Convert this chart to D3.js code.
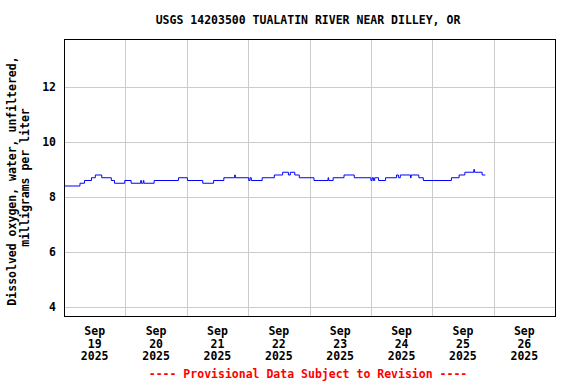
<!DOCTYPE html>
<html>
<head>
<meta charset="utf-8">
<script src="https://cdn.jsdelivr.net/npm/d3@7"></script>
<style>
  html, body { margin: 0; padding: 0; background: #fff; }
  svg { display: block; }
  text { font-family: "DejaVu Sans Mono", monospace; font-weight: bold; font-size: 11.5px; }
</style>
</head>
<body>
<div id="chart"></div>
<script>
// Chart data (hours after 2025-09-19 00:00, dissolved oxygen mg/L)
const title = "USGS 14203500 TUALATIN RIVER NEAR DILLEY, OR";
const yTitle = ["Dissolved oxygen, water, unfiltered,", "milligrams per liter"];
const footer = "---- Provisional Data Subject to Revision ----";
const hours = [0, 6.25, 8.0, 10.75, 12.25, 14.75, 18.5, 19.75, 23.75, 26.25,
  30.0, 30.25, 31.0, 31.25, 35.25, 44.75, 48.25, 54.25, 58.5, 62.5,
  66.75, 67.0, 72.25, 72.75, 73.25, 77.5, 82.25, 85.5, 87.75, 88.5,
  90.25, 92.0, 97.75, 103.25, 103.5, 105.25, 109.5, 113.5, 120.0, 120.5,
  121.0, 121.5, 123.0, 125.75, 130.0, 130.75, 131.5, 135.5, 135.75, 138.75,
  140.5, 151.5, 154.5, 156.75, 160.25, 160.5, 163.5, 164.75];
const values = [8.4, 8.5, 8.6, 8.7, 8.8, 8.7, 8.6, 8.5, 8.6, 8.5,
  8.6, 8.5, 8.6, 8.5, 8.6, 8.7, 8.6, 8.5, 8.6, 8.7,
  8.8, 8.7, 8.6, 8.7, 8.6, 8.7, 8.8, 8.9, 8.8, 8.9,
  8.8, 8.7, 8.6, 8.7, 8.6, 8.7, 8.8, 8.7, 8.6, 8.7,
  8.6, 8.7, 8.6, 8.7, 8.8, 8.7, 8.8, 8.7, 8.8, 8.7,
  8.6, 8.7, 8.8, 8.9, 9.0, 8.9, 8.8, 8.8];
const yTicks = [4, 6, 8, 10, 12];
const xTickDays = ["19", "20", "21", "22", "23", "24", "25", "26"];
const xTickMonth = "Sep";
const xTickYear = "2025";

const W = 576, H = 384;
const M = { left: 64, right: 555, top: 39, bottom: 316 };

const start = new Date(2025, 8, 19, 0, 0);
const end = new Date(2025, 8, 27, 0, 0);
const toDate = h => new Date(start.getTime() + h * 3600e3);
const data = hours.map((h, i) => ({ t: toDate(h), v: values[i] }));

const svg = d3.select("#chart").append("svg").attr("width", W).attr("height", H);

const x = d3.scaleTime().domain([start, end]).range([M.left, M.right]);
const y = d3.scaleLinear().domain([3.673, 13.745]).range([M.bottom, M.top]);

// gridlines
const dayTicks = d3.timeDay.range(start, d3.timeDay.offset(end, 1)).filter(d => d > start && d < end);
svg.append("g").selectAll("line").data(dayTicks).join("line")
  .attr("x1", d => Math.round(x(d)) + 0.5).attr("x2", d => Math.round(x(d)) + 0.5)
  .attr("y1", M.top).attr("y2", M.bottom)
  .attr("stroke", "#cccccc").attr("stroke-width", 1);
svg.append("g").selectAll("line").data(yTicks).join("line")
  .attr("x1", M.left).attr("x2", M.right)
  .attr("y1", d => Math.round(y(d)) + 0.5).attr("y2", d => Math.round(y(d)) + 0.5)
  .attr("stroke", "#cccccc").attr("stroke-width", 1);

// data line
const line = d3.line().x(d => x(d.t)).y(d => y(d.v)).curve(d3.curveStepAfter);
svg.append("path").datum(data).attr("d", line)
  .attr("fill", "none").attr("stroke", "#0000ff").attr("stroke-width", 1);

// frame
svg.append("rect").attr("x", M.left + 0.5).attr("y", M.top + 0.5)
  .attr("width", M.right - M.left).attr("height", M.bottom - M.top)
  .attr("fill", "none").attr("stroke", "#000").attr("stroke-width", 1);

// y tick labels
svg.append("g").selectAll("text").data(yTicks).join("text")
  .attr("x", M.left - 8).attr("y", d => y(d)).attr("dy", "0.35em")
  .attr("text-anchor", "end").text(d => d);

// x tick labels (noon of each day)
const labelDays = d3.timeDay.range(start, end);
const xl = svg.append("g").selectAll("text").data(labelDays).join("text")
  .attr("text-anchor", "middle")
  .attr("transform", d => `translate(${x(d3.timeHour.offset(d, 12))},0)`);
xl.append("tspan").attr("x", 0).attr("y", 335).text(xTickMonth);
xl.append("tspan").attr("x", 0).attr("y", 347.5).text((d, i) => xTickDays[i]);
xl.append("tspan").attr("x", 0).attr("y", 360).text(xTickYear);

// title
svg.append("text").attr("x", 308).attr("y", 24).attr("text-anchor", "middle").text(title);

// y axis title
const yt = svg.append("text").attr("text-anchor", "middle")
  .attr("transform", `translate(0,${(M.top + M.bottom) / 2}) rotate(-90)`);
yt.append("tspan").attr("x", -3.5).attr("y", 16).text(yTitle[0]);
yt.append("tspan").attr("x", 0).attr("y", 28.5).text(yTitle[1]);

// footer
svg.append("text").attr("x", 308).attr("y", 378).attr("text-anchor", "middle")
  .attr("fill", "#ff0000").text(footer);
</script>
</body>
</html>
